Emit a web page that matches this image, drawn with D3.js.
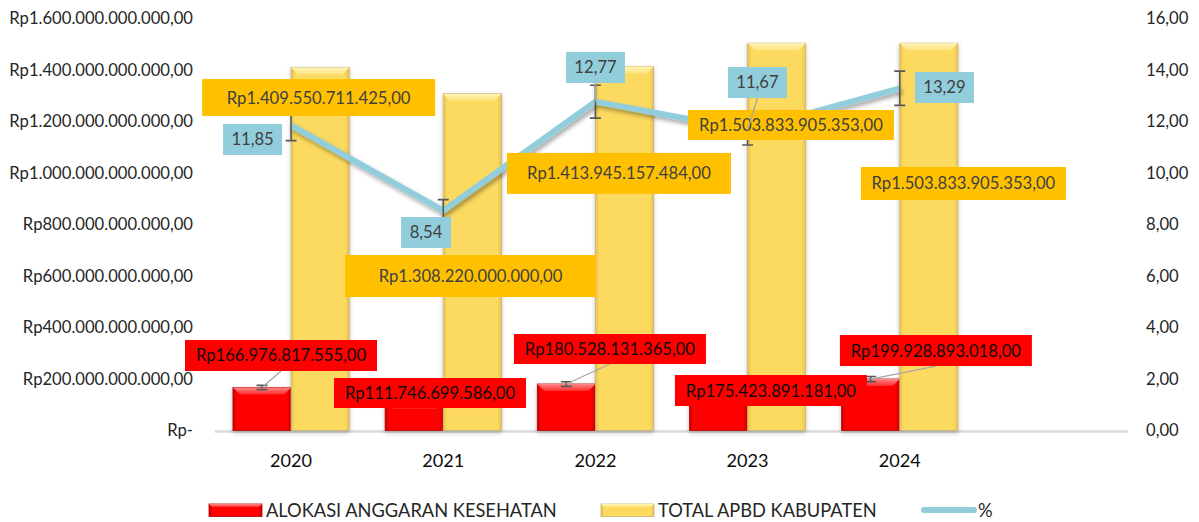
<!DOCTYPE html>
<html><head><meta charset="utf-8">
<script src="https://cdn.jsdelivr.net/npm/d3@7"></script>
<style>body{margin:0;background:#fff;} svg{display:block;}</style>
</head><body>
<svg id="c" width="1199" height="522"></svg>
<script>
// ---------- data ----------
const years = ["2020", "2021", "2022", "2023", "2024"];
const alokasi = [166976817555, 111746699586, 180528131365, 175423891181, 199928893018];
const totalApbd = [1409550711425, 1308220000000, 1413945157484, 1503833905353, 1503833905353];
const persen = [11.85, 8.54, 12.77, 11.67, 13.29];
const leftTickValues = [0, 200e9, 400e9, 600e9, 800e9, 1000e9, 1200e9, 1400e9, 1600e9];
const rightTickValues = [0, 2, 4, 6, 8, 10, 12, 14, 16];
const seriesNames = ["ALOKASI ANGGARAN KESEHATAN", "TOTAL APBD KABUPATEN", "%"];

// ---------- label layout (offset of label box centre from its data point, box size) ----------
const apbdLabelLayout = [
  {dx: -1.5, dy: 30, w: 233, h: 37}, {dx: -1.8, dy: 182.4, w: 251, h: 42},
  {dx: -5.5, dy: 107, w: 224, h: 41}, {dx: 14.3, dy: 81.7, w: 206, h: 30},
  {dx: 34.6, dy: 140.2, w: 205, h: 33}];
const alokasiLabelLayout = [
  {dx: 19, dy: -32, w: 192, h: 31, leader: true}, {dx: 15.8, dy: -8.7, w: 192, h: 30},
  {dx: 43.6, dy: -35, w: 192, h: 30, leader: true}, {dx: 52.4, dy: 5.2, w: 192, h: 31},
  {dx: 65.2, dy: -28.5, w: 192, h: 31, leader: true}];
const persenLabelLayout = [
  {dx: -38.5, dy: 14.1, w: 59, h: 31}, {dx: -17.2, dy: 21.9, w: 50, h: 31},
  {dx: 0.1, dy: -34.2, w: 59, h: 31, leader: true}, {dx: 9.9, dy: -47.5, w: 59, h: 31, leader: true},
  {dx: 44.7, dy: -0.8, w: 59, h: 31}];

// ---------- setup ----------
const FONT = "Lato, 'Open Sans', sans-serif";
const svg = d3.select("#c");
const id = d3.formatLocale({decimal: ",", thousands: ".", grouping: [3], currency: ["Rp", ""]});
const fmtRp = v => v === 0 ? "Rp-" : id.format("$,.2f")(v);
const fmtNum = id.format(",.2f");

function fitSize(str, target) {
  const t = svg.append("text").attr("font-family", FONT).attr("font-size", 100).text(str);
  const L = t.node().getComputedTextLength(); t.remove();
  return 100 * target / L;
}
const fsMain = fitSize("Rp1.600.000.000.000,00", 184);
const fsYear = fitSize("2020", 42);
const fsLegend = fitSize("ALOKASI ANGGARAN KESEHATAN", 291);

const pLeft = 215, pRight = 1128, pTop = 18.5, pBottom = 430.5;
const cats = years.concat([""]);
const x = d3.scaleBand().domain(cats).range([pLeft, pRight]).paddingInner(0.236).paddingOuter(0.118);
const x1 = d3.scaleBand().domain([0, 1]).range([0, x.bandwidth()]);
const yL = d3.scaleLinear().domain([0, 1600e9]).range([pBottom, pTop]);
const yR = d3.scaleLinear().domain([0, 16]).range([pBottom, pTop]);

// ---------- defs ----------
const defs = svg.append("defs");
function hGrad(idn, edge, mid) {
  const g = defs.append("linearGradient").attr("id", idn).attr("x1", 0).attr("x2", 1).attr("y1", 0).attr("y2", 0);
  [[0, edge], [0.07, mid], [0.93, mid], [1, edge]].forEach(([o, c]) => g.append("stop").attr("offset", o).attr("stop-color", c));
}
function vGrad(idn, c1, c2) {
  const g = defs.append("linearGradient").attr("id", idn).attr("x1", 0).attr("x2", 0).attr("y1", 0).attr("y2", 1);
  g.append("stop").attr("offset", 0).attr("stop-color", c1);
  g.append("stop").attr("offset", 1).attr("stop-color", c2);
}
hGrad("yBody", "#E9C24A", "#FCDA60");
vGrad("yTop", "#FFF4B8", "#FFE47E");
hGrad("rBody", "#C80000", "#FF0202");
vGrad("rTop", "#FF8A8A", "#FF2A2A");
const f = defs.append("filter").attr("id", "shadow").attr("x", "-10%").attr("y", "-30%").attr("width", "130%").attr("height", "180%");
f.append("feDropShadow").attr("dx", 2).attr("dy", 3).attr("stdDeviation", 2).attr("flood-color", "#000").attr("flood-opacity", 0.35);
const fb = defs.append("filter").attr("id", "barShadow").attr("x", "-20%").attr("y", "-10%").attr("width", "140%").attr("height", "130%");
fb.append("feDropShadow").attr("dx", 0).attr("dy", 2).attr("stdDeviation", 2).attr("flood-color", "#000").attr("flood-opacity", 0.25);

// ---------- axes ----------
const axL = svg.append("g").attr("transform", `translate(${193},0)`)
  .call(d3.axisLeft(yL).tickValues(leftTickValues).tickFormat(fmtRp).tickSize(0).tickPadding(0));
axL.select(".domain").remove();
axL.selectAll("text").attr("font-family", FONT).attr("font-size", fsMain).attr("fill", "#262626");

const axR = svg.append("g").attr("transform", `translate(${1146},0)`)
  .call(d3.axisRight(yR).tickValues(rightTickValues).tickFormat(fmtNum).tickSize(0).tickPadding(0));
axR.select(".domain").remove();
axR.selectAll("text").attr("font-family", FONT).attr("font-size", fsMain).attr("fill", "#262626");

const axB = svg.append("g").attr("transform", `translate(0,${pBottom})`)
  .call(d3.axisBottom(x).tickSize(0).tickPadding(0).tickFormat(d => d));
axB.select(".domain").attr("stroke", "#D9D9D9").attr("stroke-width", 2.5).attr("d", `M${pLeft},1H${pRight}`);
axB.selectAll("text").attr("font-family", FONT).attr("font-size", fsYear).attr("fill", "#0d0d0d")
  .attr("dy", null).attr("y", 36);

// ---------- bars ----------
function bevelBar(g, bx, by, w, h, body, topFill, stroke) {
  const b = Math.min(7, h);
  g.append("rect").attr("x", bx).attr("y", by).attr("width", w).attr("height", h)
    .attr("fill", `url(#${body})`).attr("stroke", stroke).attr("stroke-width", 0.8);
  g.append("path").attr("d", `M${bx},${by}H${bx + w}L${bx + w - b},${by + b}H${bx + b}Z`).attr("fill", `url(#${topFill})`);
}
const barsG = svg.append("g");
years.forEach((yr, i) => {
  const g = barsG.append("g").attr("filter", "url(#barShadow)");
  bevelBar(g, x(yr) + x1(0), yL(alokasi[i]), x1.bandwidth(), pBottom - yL(alokasi[i]), "rBody", "rTop", "#B00000");
  bevelBar(g, x(yr) + x1(1), yL(totalApbd[i]), x1.bandwidth(), pBottom - yL(totalApbd[i]), "yBody", "yTop", "#C8B27A");
});

// error bars (5%)
function errBar(g, cx, yScale, v) {
  const y0 = yScale(v * 0.95), y1 = yScale(v * 1.05), c = 5.5;
  g.append("path").attr("d", `M${cx},${y0}V${y1}M${cx - c},${y0}H${cx + c}M${cx - c},${y1}H${cx + c}`)
    .attr("stroke", "#595959").attr("stroke-width", 1.6).attr("fill", "none");
}
const errG = svg.append("g");
years.forEach((yr, i) => errBar(errG, x(yr) + x1(0) + x1.bandwidth() / 2, yL, alokasi[i]));

// ---------- line ----------
const cx = yr => x(yr) + x.bandwidth() / 2;
const line = d3.line().x((d, i) => cx(years[i])).y(d => yR(d));
svg.append("path").datum(persen).attr("d", line).attr("fill", "none").attr("stroke", "#92CDDC")
  .attr("stroke-width", 6).attr("stroke-linejoin", "round").attr("filter", "url(#shadow)");
const errL = svg.append("g");
years.forEach((yr, i) => errBar(errL, cx(yr), yR, persen[i]));

// ---------- data labels ----------
function labels(values, anchorX, yScale, layout, fill, textColor, fmt) {
  const g = svg.append("g");
  values.forEach((v, i) => {
    const ax = anchorX(years[i]), ay = yScale(v), L = layout[i];
    const bx = ax + L.dx, by = ay + L.dy;
    if (L.leader) {
      g.append("line").attr("x1", ax).attr("y1", ay).attr("x2", bx).attr("y2", by + L.h / 2)
        .attr("stroke", "#A6A6A6").attr("stroke-width", 1.3);
    }
    g.append("rect").attr("x", bx - L.w / 2).attr("y", by - L.h / 2).attr("width", L.w).attr("height", L.h).attr("fill", fill);
    g.append("text").attr("x", bx).attr("y", by).attr("dy", "0.36em").attr("text-anchor", "middle")
      .attr("font-family", FONT).attr("font-size", fsMain).attr("fill", textColor).text(fmt(v));
  });
}
labels(alokasi, yr => x(yr) + x1(0) + x1.bandwidth() / 2, yL, alokasiLabelLayout, "#FF0000", "#0d0d0d", fmtRp);
labels(totalApbd, yr => x(yr) + x1(1) + x1.bandwidth() / 2, yL, apbdLabelLayout, "#FFC000", "#404040", fmtRp);
labels(persen, cx, yR, persenLabelLayout, "#92CDDC", "#404040", fmtNum);

// ---------- legend ----------
const lg = svg.append("g");
const legendItems = [
  {name: seriesNames[0], sx: 209, type: "bar", body: "rBody", topFill: "rTop", stroke: "#B00000"},
  {name: seriesNames[1], sx: 601, type: "bar", body: "yBody", topFill: "yTop", stroke: "#C8B27A"},
  {name: seriesNames[2], sx: 921, type: "line"}];
legendItems.forEach(it => {
  if (it.type === "bar") {
    const g = lg.append("g");
    g.append("rect").attr("x", it.sx).attr("y", 504).attr("width", 53).attr("height", 12.5)
      .attr("fill", `url(#${it.body})`).attr("stroke", it.stroke).attr("stroke-width", 0.8);
    g.append("path").attr("d", `M${it.sx},504H${it.sx + 53}L${it.sx + 50},507H${it.sx + 3}Z`).attr("fill", `url(#${it.topFill})`);
  } else {
    lg.append("line").attr("x1", it.sx + 3).attr("x2", it.sx + 53).attr("y1", 510).attr("y2", 510)
      .attr("stroke", "#92CDDC").attr("stroke-width", 6).attr("stroke-linecap", "round");
  }
  lg.append("text").attr("x", it.sx + 57).attr("y", 510).attr("dy", "0.36em")
    .attr("font-family", FONT).attr("font-size", fsLegend).attr("fill", "#262626").text(it.name);
});
</script>
</body></html>
